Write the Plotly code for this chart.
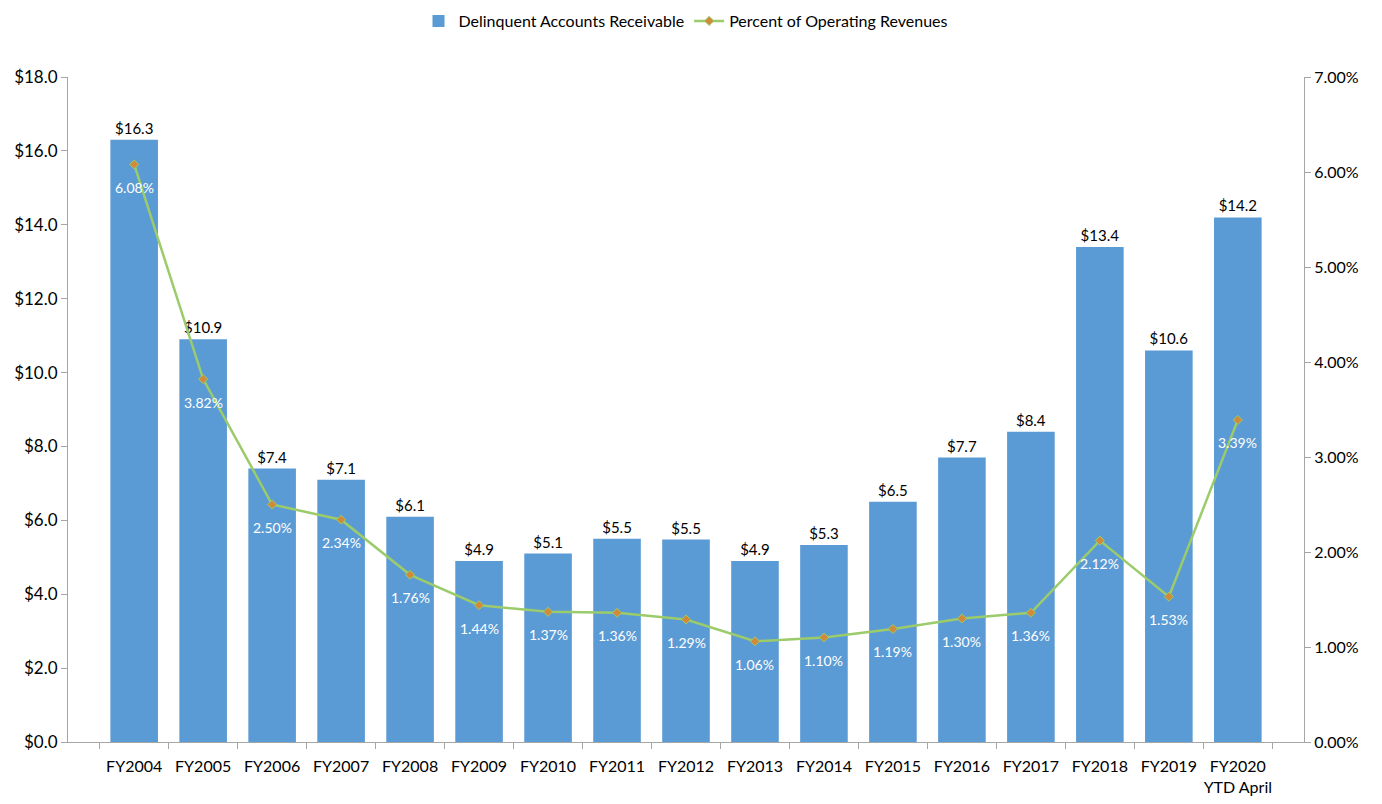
import plotly.graph_objects as go

categories = ["FY2004", "FY2005", "FY2006", "FY2007", "FY2008", "FY2009", "FY2010", "FY2011",
              "FY2012", "FY2013", "FY2014", "FY2015", "FY2016", "FY2017", "FY2018", "FY2019",
              "FY2020<br>YTD April"]
delinquent = [16.3, 10.9, 7.4, 7.1, 6.1, 4.9, 5.1, 5.5, 5.48, 4.9, 5.33, 6.5, 7.7, 8.4, 13.4, 10.6, 14.2]
percent = [6.08, 3.82, 2.50, 2.34, 1.76, 1.44, 1.37, 1.36, 1.29, 1.06, 1.10, 1.19, 1.30, 1.36, 2.12, 1.53, 3.39]

FONT = "Lato"

fig = go.Figure()
fig.add_trace(go.Bar(
    x=categories, y=delinquent, name="Delinquent Accounts Receivable",
    marker=dict(color="#5B9BD5", line=dict(width=0)),
    text=[f"${v:.1f}" for v in delinquent], textposition="outside",
    textfont=dict(color="black", size=15, family=FONT), cliponaxis=False,
))
fig.add_trace(go.Scatter(
    x=categories, y=[p / 100 for p in percent], name="Percent of Operating Revenues",
    yaxis="y2", mode="lines+markers",
    line=dict(color="#9BCB6B", width=2.5),
    marker=dict(symbol="diamond", size=7, color="#D08A3A", line=dict(color="#9BCB6B", width=1)),
))

for c, p in zip(categories, percent):
    fig.add_annotation(x=c, y=p / 100, xref="x", yref="y2", text=f"{p:.2f}%",
                       showarrow=False, yshift=-23,
                       font=dict(color="white", size=14, family=FONT))

fig.update_layout(
    width=1382, height=804,
    margin=dict(l=68, r=78, t=77, b=62, autoexpand=False),
    plot_bgcolor="white", paper_bgcolor="white",
    font=dict(family=FONT, size=15, color="black"),
    bargap=0.31,
    showlegend=True,
    legend=dict(orientation="h", x=0.5, xanchor="center", y=0.995, yref="container", yanchor="top",
                font=dict(size=16, family=FONT), itemwidth=30),
    xaxis=dict(showline=True, linecolor="#A6A6A6", ticks="outside", tickson="boundaries",
               tickcolor="#A6A6A6", ticklen=6, showgrid=False, tickangle=0, ticklabelstandoff=10,
               tickfont=dict(size=16), automargin=False),
    yaxis=dict(range=[0, 18], dtick=2, tickformat="$.1f", showline=True, linecolor="#A6A6A6",
               ticks="outside", tickcolor="#A6A6A6", ticklen=6, showgrid=False, zeroline=False,
               tickfont=dict(size=17), automargin=False),
    yaxis2=dict(range=[0, 0.07], dtick=0.01, tickformat=".2%", overlaying="y", side="right",
                showline=True, linecolor="#A6A6A6", ticks="outside", tickcolor="#A6A6A6", ticklen=6,
                showgrid=False, zeroline=False, tickfont=dict(size=16), automargin=False),
)

fig.write_html("out.html")
